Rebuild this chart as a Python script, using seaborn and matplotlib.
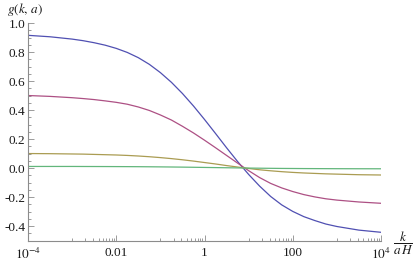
"""
g(k, a) against k / (a H) for four amplitudes, Mathematica-like styling.
"""

import pandas as pd
import seaborn as sns
import matplotlib.pyplot as plt
from matplotlib.ticker import FixedLocator, MultipleLocator, FixedFormatter, NullFormatter


# ---------------------------------------------------------------------
# Data
# ---------------------------------------------------------------------
K_VALUES = [
    1e-4, 3.16e-4, 1e-3, 1.78e-3, 3.16e-3, 5.62e-3,
    1e-2, 1.78e-2, 3.16e-2, 5.62e-2, 0.1, 0.178, 0.316, 0.562, 1.0,
    1.78, 3.16, 5.62, 10.0, 17.8, 31.6, 56.2, 100.0,
    178.0, 316.0, 562.0, 1e3, 3.16e3, 1e4,
]

G_BLUE = [
    0.915, 0.905, 0.889, 0.878, 0.864, 0.847,
    0.825, 0.797, 0.761, 0.715, 0.658, 0.591, 0.514, 0.428, 0.335,
    0.238, 0.140, 0.045, -0.044, -0.125, -0.196, -0.254, -0.299,
    -0.335, -0.362, -0.386, -0.403, -0.428, -0.443,
]
G_PURPLE = [
    0.500, 0.494, 0.485, 0.479, 0.472, 0.463,
    0.453, 0.440, 0.421, 0.397, 0.366, 0.331, 0.288, 0.242, 0.192,
    0.140, 0.087, 0.034, -0.018, -0.066, -0.106, -0.137, -0.162,
    -0.183, -0.199, -0.212, -0.221, -0.234, -0.243,
]
G_GOLD = [
    0.100, 0.099, 0.097, 0.096, 0.094, 0.092,
    0.090, 0.087, 0.083, 0.078, 0.072, 0.065, 0.057, 0.048, 0.038,
    0.028, 0.017, 0.007, -0.003, -0.012, -0.019, -0.025, -0.030,
    -0.034, -0.037, -0.040, -0.042, -0.046, -0.048,
]
G_GREEN = [
    0.011, 0.011, 0.011, 0.0107, 0.0105, 0.0103,
    0.010, 0.0097, 0.0093, 0.0087, 0.0080, 0.0072, 0.0063, 0.0053, 0.0042,
    0.0031, 0.0020, 0.0009, -0.0002, -0.0011, -0.0019, -0.0026, -0.0031,
    -0.0036, -0.0039, -0.0042, -0.0045, -0.0049, -0.0051,
]

SERIES = {"blue": G_BLUE, "purple": G_PURPLE, "gold": G_GOLD, "green": G_GREEN}
PALETTE = {"blue": "#5050b2", "purple": "#ad5084", "gold": "#aa9c52", "green": "#62b67b"}

X_TICKS = [1e-4, 1e-2, 1.0, 1e2, 1e4]
X_TICK_LABELS = [r"$10^{-4}$", "0.01", "1", "100", r"$10^{4}$"]
MINOR_DECADES = [-3, -1, 1, 3]


# ---------------------------------------------------------------------
# Plot
# ---------------------------------------------------------------------
sns.set_style("ticks")
plt.rcParams["font.family"] = ["Liberation Serif", "DejaVu Serif"]
plt.rcParams["mathtext.fontset"] = "stix"

df = pd.concat(
    [pd.DataFrame({"k": K_VALUES, "g": vals, "curve": name}) for name, vals in SERIES.items()],
    ignore_index=True,
)

fig = plt.figure(figsize=(4.15, 2.63), dpi=100)
ax = fig.add_axes([28 / 415, 1 - 241 / 263, 353 / 415, (241 - 23) / 263])

sns.lineplot(
    data=df, x="k", y="g", hue="curve", palette=PALETTE,
    linewidth=0.9, legend=False, ax=ax,
)

ax.set_xscale("log")
ax.set_xlim(1e-4, 1e4)
ax.set_ylim(-0.503, 1.0)
ax.set_xlabel("")
ax.set_ylabel("")

axis_gray = "#8c8c8c"
for side in ("top", "right"):
    ax.spines[side].set_visible(False)
for side in ("left", "bottom"):
    ax.spines[side].set_color(axis_gray)
    ax.spines[side].set_linewidth(0.8)

minor_x = [m * 10.0 ** e for e in MINOR_DECADES for m in range(1, 10)]
ax.xaxis.set_major_locator(FixedLocator(X_TICKS))
ax.xaxis.set_major_formatter(FixedFormatter(X_TICK_LABELS))
ax.xaxis.set_minor_locator(FixedLocator(minor_x))
ax.xaxis.set_minor_formatter(NullFormatter())

ax.yaxis.set_major_locator(MultipleLocator(0.2))
ax.yaxis.set_minor_locator(MultipleLocator(0.05))
ax.yaxis.set_major_formatter(lambda v, pos: f"{v:.1f}")

ax.tick_params(which="both", direction="in", color=axis_gray, width=0.6,
               labelsize=9.5, labelcolor="#1a1a1a")
ax.tick_params(which="major", length=4)
ax.tick_params(axis="y", which="major", pad=2)
ax.tick_params(axis="x", which="major", pad=4)
ax.tick_params(which="minor", length=2)

fig.text(7 / 415, 1 - 10 / 263, r"$g(k,\,a)$", ha="left", va="center",
         fontsize=9.5, color="#1a1a1a")
fig.text(403 / 415, 1 - 243 / 263, r"$\dfrac{k}{a\,H}$", ha="center", va="center",
         fontsize=9.5, color="#1a1a1a")

fig.savefig("out.png", dpi=100)
